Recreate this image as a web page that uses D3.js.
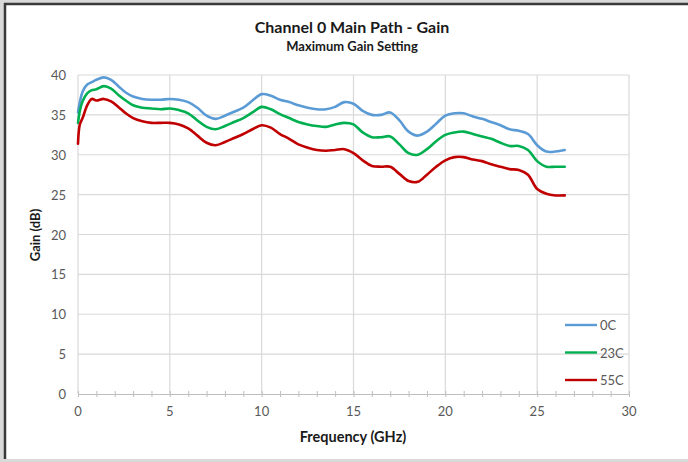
<!DOCTYPE html>
<html>
<head>
<meta charset="utf-8">
<script src="https://cdn.jsdelivr.net/npm/d3@7"></script>
<style>
  html, body { margin: 0; padding: 0; background: #d9d9d9; }
  svg { display: block; }
</style>
</head>
<body>
<svg id="chart" width="688" height="462"></svg>
<script>
// Frequency points (GHz) shared by all temperature series
const freq = [0, 0.1, 0.25, 0.5, 0.75, 1.0, 1.4, 1.8, 2.2, 2.6, 3.0, 3.5, 4.0, 4.5, 5.0, 5.5, 6.0, 6.5, 7.0, 7.5,
  8.0, 8.5, 9.0, 9.5, 10.0, 10.5, 11.0, 11.5, 12.0, 12.5, 13.0, 13.5, 14.0, 14.5, 15.0, 15.5, 16.0, 16.5, 17.0,
  17.5, 18.0, 18.5, 19.0, 19.5, 20.0, 20.5, 21.0, 21.5, 22.0, 22.5, 23.0, 23.5, 24.0, 24.5, 25.0, 25.5, 26.0, 26.5];

// Gain (dB) per temperature
const gain0C = [35.3, 36.6, 37.9, 38.8, 39.1, 39.4, 39.7, 39.4, 38.6, 37.8, 37.3, 37.0, 36.9, 36.9, 37.0, 36.9, 36.6, 35.9, 34.9, 34.5,
  34.9, 35.4, 35.9, 36.8, 37.6, 37.4, 36.9, 36.6, 36.2, 35.9, 35.7, 35.7, 36.0, 36.6, 36.4, 35.5, 35.0, 35.0, 35.3,
  34.3, 32.9, 32.4, 32.9, 33.9, 34.9, 35.2, 35.2, 34.8, 34.5, 34.1, 33.7, 33.2, 33.0, 32.6, 31.2, 30.4, 30.4, 30.6];
const gain23C = [34.0, 35.5, 36.7, 37.7, 38.1, 38.2, 38.6, 38.3, 37.5, 36.8, 36.2, 35.9, 35.8, 35.7, 35.8, 35.6, 35.2, 34.3, 33.5, 33.2,
  33.6, 34.1, 34.6, 35.3, 36.0, 35.7, 35.1, 34.6, 34.1, 33.8, 33.6, 33.5, 33.8, 34.0, 33.8, 32.8, 32.2, 32.2, 32.3,
  31.3, 30.2, 30.0, 30.7, 31.7, 32.5, 32.8, 32.9, 32.6, 32.3, 32.0, 31.5, 31.1, 31.1, 30.6, 29.2, 28.5, 28.5, 28.5];
const gain55C = [31.4, 33.8, 34.6, 36.2, 37.0, 36.8, 37.0, 36.7, 36.0, 35.2, 34.6, 34.2, 34.0, 34.0, 34.0, 33.8, 33.3, 32.4, 31.5, 31.2,
  31.6, 32.1, 32.6, 33.2, 33.7, 33.4, 32.6, 32.0, 31.3, 30.9, 30.6, 30.5, 30.6, 30.7, 30.2, 29.3, 28.6, 28.5, 28.5,
  27.6, 26.7, 26.6, 27.5, 28.5, 29.3, 29.7, 29.7, 29.4, 29.2, 28.8, 28.5, 28.2, 28.1, 27.5, 25.7, 25.1, 24.9, 24.9];

const seriesNames = ["0C", "23C", "55C"];
const seriesColors = ["#5b9bd5", "#00b050", "#c00000"];
const seriesValues = [gain0C, gain23C, gain55C];

const xTicks = [0, 5, 10, 15, 20, 25, 30];
const yTicks = [0, 5, 10, 15, 20, 25, 30, 35, 40];

const svg = d3.select("#chart");
const font = "Lato, 'Open Sans', 'Liberation Sans', sans-serif";

// Page frame: white sheet with a dark edge on the top and left
svg.append("rect").attr("x", 5).attr("y", 4).attr("width", 683).attr("height", 455).attr("fill", "#ffffff");
svg.append("line").attr("x1", 5).attr("x2", 5).attr("y1", 3).attr("y2", 459)
  .attr("stroke", "#3a3a3a").attr("stroke-width", 2.5);
svg.append("line").attr("x1", 4).attr("x2", 688).attr("y1", 4).attr("y2", 4)
  .attr("stroke", "#3a3a3a").attr("stroke-width", 2.5);

const plot = { left: 78, right: 629, top: 75, bottom: 394 };
const x = d3.scaleLinear().domain([0, 30]).range([plot.left, plot.right]);
const y = d3.scaleLinear().domain([0, 40]).range([plot.bottom, plot.top]);

// Gridlines
const grid = svg.append("g").attr("stroke", "#d9d9d9").attr("stroke-width", 1.2);
grid.selectAll(".hg").data(yTicks.filter(d => d > 0)).join("line")
  .attr("x1", plot.left).attr("x2", plot.right)
  .attr("y1", d => y(d)).attr("y2", d => y(d));
grid.selectAll(".vg").data(xTicks).join("line")
  .attr("x1", d => x(d)).attr("x2", d => x(d))
  .attr("y1", plot.top).attr("y2", plot.bottom);

// X axis with minor ticks crossing the baseline
const xAxis = d3.axisBottom(x).tickValues(d3.range(0, 31, 1)).tickSize(0).tickFormat("");
const gx = svg.append("g").attr("transform", `translate(0,${plot.bottom})`).call(xAxis);
gx.select(".domain").attr("stroke", "#bfbfbf").attr("stroke-width", 1.2);
gx.selectAll(".tick line").attr("y1", -3).attr("y2", 3).attr("stroke", "#bfbfbf");

svg.append("g").selectAll("text").data(xTicks).join("text")
  .attr("x", d => x(d)).attr("y", 416)
  .attr("text-anchor", "middle").attr("font-family", font).attr("font-size", 13)
  .attr("fill", "#595959").text(d => d);

svg.append("g").selectAll("text").data(yTicks).join("text")
  .attr("x", 66).attr("y", d => y(d) + 5)
  .attr("text-anchor", "end").attr("font-family", font).attr("font-size", 13)
  .attr("fill", "#595959").text(d => d);

// Gain curves
const line = d3.line()
  .x(d => x(d[0])).y(d => y(d[1]))
  .curve(d3.curveCatmullRom.alpha(0.5));

svg.append("g").selectAll("path").data(seriesValues).join("path")
  .attr("d", vals => line(freq.map((f, i) => [f, vals[i]])))
  .attr("fill", "none")
  .attr("stroke", (d, i) => seriesColors[i])
  .attr("stroke-width", 2.6)
  .attr("stroke-linejoin", "round").attr("stroke-linecap", "round");

// Titles
svg.append("text").attr("x", 352).attr("y", 33).attr("text-anchor", "middle")
  .attr("font-family", font).attr("font-size", 16).attr("font-weight", "bold")
  .attr("fill", "#1a1a1a").text("Channel 0 Main Path - Gain");
svg.append("text").attr("x", 352).attr("y", 51).attr("text-anchor", "middle")
  .attr("font-family", font).attr("font-size", 13).attr("font-weight", "bold")
  .attr("fill", "#1a1a1a").text("Maximum Gain Setting");

svg.append("text").attr("x", 353).attr("y", 442).attr("text-anchor", "middle")
  .attr("font-family", font).attr("font-size", 14.5).attr("font-weight", "bold")
  .attr("fill", "#1a1a1a").text("Frequency (GHz)");
svg.append("text").attr("transform", "translate(40,235) rotate(-90)").attr("text-anchor", "middle")
  .attr("font-family", font).attr("font-size", 13).attr("font-weight", "bold")
  .attr("fill", "#1a1a1a").text("Gain (dB)");

// Legend
const legend = svg.append("g").selectAll("g").data(seriesNames).join("g")
  .attr("transform", (d, i) => `translate(565,${325 + i * 27.5})`);
legend.append("line").attr("x1", 0).attr("x2", 32).attr("y1", 0).attr("y2", 0)
  .attr("stroke", (d, i) => seriesColors[i]).attr("stroke-width", 2.4);
legend.append("text").attr("x", 35).attr("y", 5)
  .attr("font-family", font).attr("font-size", 13).attr("fill", "#595959").text(d => d);
</script>
</body>
</html>
